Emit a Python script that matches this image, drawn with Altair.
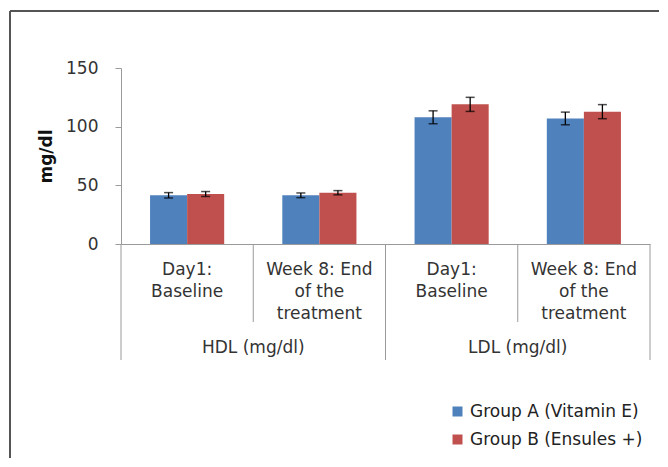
import altair as alt
import pandas as pd

# ---- data ----
lipids = ["HDL (mg/dl)", "HDL (mg/dl)", "LDL (mg/dl)", "LDL (mg/dl)"]
timepoints = ["Day1:|Baseline", "Week 8: End|of the|treatment",
              "Day1:|Baseline", "Week 8: End|of the|treatment"]
groups = ["Group A (Vitamin E)", "Group B (Ensules +)"]
group_a = [41.5, 41.5, 108.0, 107.0]
group_b = [42.6, 43.7, 119.0, 112.8]
err_a = [2.3, 2.0, 5.5, 5.4]
err_b = [2.1, 1.8, 6.0, 6.0]
y_ticks = [0, 50, 100, 150]
colors = ["#4F81BD", "#C0504D"]

cats = [f"{l}|{t}" for l, t in zip(lipids, timepoints)]
rows = []
for i, c in enumerate(cats):
    for g, vals, errs in ((groups[0], group_a, err_a), (groups[1], group_b, err_b)):
        rows.append({"cat": c, "group": g, "value": vals[i],
                     "lo": vals[i] - errs[i], "hi": vals[i] + errs[i]})
df = pd.DataFrame(rows)

# categories that start a lipid group / sit in the middle of a group
first_df = pd.DataFrame({"cat": [c for c in cats if "Day1" in c]})
mid_df = pd.DataFrame({"cat": [c for c in cats if "Week" in c],
                       "lipid": [l for l, c in zip(lipids, cats) if "Week" in c]})
last_df = pd.DataFrame({"cat": [cats[-1]]})

FONT = "DejaVu Sans"
SEP = "#9a9a9a"

x_enc = alt.X(
    "cat:N", sort=cats, title=None,
    scale=alt.Scale(paddingInner=0, paddingOuter=0),
    axis=alt.Axis(
        labelExpr="slice(split(datum.label, '|'), 1)",
        ticks=False, domainColor=SEP,
        labelFont=FONT, labelFontSize=17, labelColor="#333",
        labelPadding=17, labelAngle=0, labelLineHeight=22, labelBaseline="top",
        labelLimit=200,
    ),
)
xoff = alt.XOffset("group:N", sort=groups,
                   scale=alt.Scale(paddingInner=0, paddingOuter=0.784))

base = alt.Chart(df)

bars = base.mark_bar().encode(
    x=x_enc,
    xOffset=xoff,
    y=alt.Y("value:Q", title="mg/dl",
            scale=alt.Scale(domain=[0, 150], nice=False),
            axis=alt.Axis(values=y_ticks, grid=False, tickSize=6,
                          tickColor=SEP, domainColor=SEP,
                          labelFont=FONT, labelFontSize=17, labelColor="#333",
                          labelPadding=17,
                          titleFont=FONT, titleFontSize=17, titleFontWeight="bold",
                          titleColor="#111", titlePadding=10)),
    color=alt.Color("group:N", sort=groups,
                    scale=alt.Scale(domain=groups, range=colors),
                    legend=alt.Legend(title=None, orient="none", legendX=328, legendY=335,
                                      symbolType="square", symbolSize=100,
                                      symbolStrokeWidth=0,
                                      labelFont=FONT, labelFontSize=17, labelColor="#222",
                                      rowPadding=10, padding=0, labelLimit=300)),
)

err_line = base.mark_rule(color="black", strokeWidth=1.3).encode(
    x=alt.X("cat:N", sort=cats), xOffset=xoff,
    y="lo:Q", y2="hi:Q",
)
cap_hi = base.mark_tick(color="black", thickness=1.5, size=9, orient="horizontal").encode(
    x=alt.X("cat:N", sort=cats), xOffset=xoff, y="hi:Q")
cap_lo = base.mark_tick(color="black", thickness=1.5, size=9, orient="horizontal").encode(
    x=alt.X("cat:N", sort=cats), xOffset=xoff, y="lo:Q")

# hierarchical axis separators
sep_short = alt.Chart(mid_df).mark_rule(color=SEP, strokeWidth=1).encode(
    x=alt.X("cat:N", sort=cats, bandPosition=0), y=alt.value(176), y2=alt.value(254))
sep_long = alt.Chart(first_df).mark_rule(color=SEP, strokeWidth=1).encode(
    x=alt.X("cat:N", sort=cats, bandPosition=0), y=alt.value(176), y2=alt.value(292))
sep_end = alt.Chart(last_df).mark_rule(color=SEP, strokeWidth=1).encode(
    x=alt.X("cat:N", sort=cats, bandPosition=1), y=alt.value(176), y2=alt.value(292))

group_labels = alt.Chart(mid_df).mark_text(
    font=FONT, fontSize=17, color="#333", baseline="middle", align="center"
).encode(
    x=alt.X("cat:N", sort=cats, bandPosition=0),
    y=alt.value(280),
    text="lipid:N",
)

one = pd.DataFrame({"k": [0]})
frame_left = alt.Chart(one).mark_rule(color="#555", strokeWidth=2).encode(
    x=alt.value(-111), y=alt.value(-57), y2=alt.value(420))
frame_top = alt.Chart(one).mark_rule(color="#555", strokeWidth=2).encode(
    x=alt.value(-111), x2=alt.value(560), y=alt.value(-57))

chart = alt.layer(bars, err_line, cap_hi, cap_lo, sep_short, sep_long, sep_end,
                  group_labels, frame_left, frame_top).properties(
    width=529, height=176,
    autosize=alt.AutoSizeParams(type="none"),
    padding={"left": 113, "top": 60, "right": 9, "bottom": 214},
).configure_view(stroke=None)

chart.save("out.html", embed_options={"renderer": "svg", "actions": False})
